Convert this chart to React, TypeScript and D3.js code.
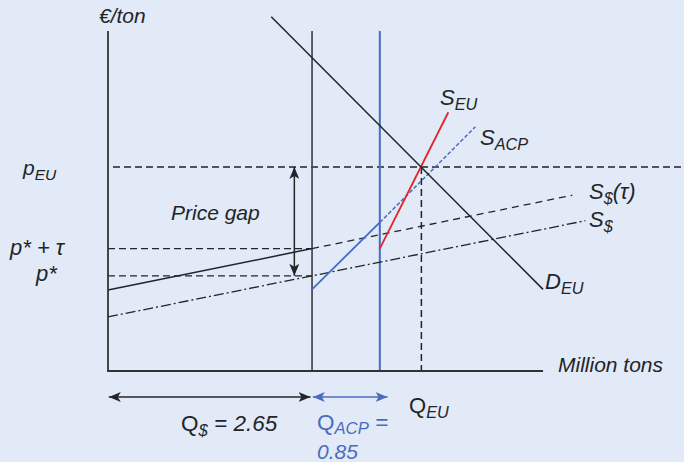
import React from 'react';
import * as d3 from 'd3';

const W = 684;
const H = 462;

// quantities in million tons, prices in arbitrary units
const qWorld = 2.65;          // Q$
const qWorldPlusACP = 3.53;   // Q$ + QACP
const qEU = 4.07;             // QEU
const axisQMax = 5.65;
const axisPMax = 10;
const pEU = 6.0;
const pStarTau = 3.6;
const pStar = 2.8;
const gapArrowQ = 2.42;

const demandEU: [number, number][] = [[2.12, 10.42], [5.65, 2.4]];
const supplyTauSolid: [number, number][] = [[0, 2.38], [2.65, 3.6]];
const supplyTauDashed: [number, number][] = [[2.65, 3.6], [6.03, 5.17]];
const supplyWorld: [number, number][] = [[0, 1.59], [6.2, 4.42]];
const supplyEU: [number, number][] = [[3.53, 3.6], [4.42, 7.61]];
const supplyACPSolid: [number, number][] = [[2.65, 2.4], [3.53, 4.37]];
const supplyACPDashed: [number, number][] = [[3.53, 4.37], [4.77, 7.18]];
const bottomArrowBlack = [0.01, 2.63];
const bottomArrowBlue = [2.66, 3.63];

const FONT = '"Liberation Sans", Arial, Helvetica, sans-serif';
const INK = '#222428';
const BLUE = '#4a6cc0';
const RED = '#e3232a';

const x = d3.scaleLinear().domain([0, 6]).range([108, 570]);
const y = d3.scaleLinear().domain([0, 10]).range([371, 31]);
const line = d3.line<[number, number]>().x(d => x(d[0])).y(d => y(d[1]));

type LabelProps = {
  x: number; y: number; main: string; sub?: string; extra?: string;
  size?: number; fill?: string; upright?: boolean; drop?: number;
};

const Label = ({ x, y, main, sub, extra, size = 21, fill = INK, upright, drop = 5 }: LabelProps) => (
  <text x={x} y={y} fontSize={size} fill={fill} fontFamily={FONT} fontStyle="italic">
    <tspan fontStyle={upright ? 'normal' : 'italic'}>{main}</tspan>
    {sub && <tspan fontSize={size * 0.74} dy={drop}>{sub}</tspan>}
    {extra && <tspan dy={-drop}>{extra}</tspan>}
  </text>
);

export default function App() {
  const arrowY = 397;
  return (
    <svg width={W} height={H} style={{ position: 'absolute', left: 0, top: 0 }}>
      <defs>
        <marker id="headK" viewBox="0 0 12 10" refX={12} refY={5} markerWidth={12} markerHeight={10}
          markerUnits="userSpaceOnUse" orient="auto-start-reverse">
          <path d="M0,0 L12,5 L0,10 L3,5 Z" fill={INK} />
        </marker>
        <marker id="headB" viewBox="0 0 12 10" refX={12} refY={5} markerWidth={12} markerHeight={10}
          markerUnits="userSpaceOnUse" orient="auto-start-reverse">
          <path d="M0,0 L12,5 L0,10 L3,5 Z" fill={BLUE} />
        </marker>
      </defs>
      <rect width={W} height={H} fill="#e1eaf6" />

      {/* reference dashed lines */}
      <line x1={x(0) + 5} x2={W} y1={y(pEU)} y2={y(pEU)} stroke={INK} strokeWidth={1.3} strokeDasharray="7 4" />
      <line x1={x(0)} x2={x(qWorld)} y1={y(pStarTau)} y2={y(pStarTau)} stroke={INK} strokeWidth={1.3} strokeDasharray="7 4" />
      <line x1={x(0)} x2={x(qWorld)} y1={y(pStar)} y2={y(pStar)} stroke={INK} strokeWidth={1.3} strokeDasharray="7 4" />
      <line x1={x(qEU)} x2={x(qEU)} y1={y(pEU)} y2={y(0)} stroke={INK} strokeWidth={1.5} strokeDasharray="7 4" />

      {/* quantity verticals */}
      <line x1={x(qWorld)} x2={x(qWorld)} y1={y(axisPMax)} y2={y(0)} stroke="#44474f" strokeWidth={1.7} />
      <line x1={x(qWorldPlusACP)} x2={x(qWorldPlusACP)} y1={y(axisPMax)} y2={y(0)} stroke={BLUE} strokeWidth={2} />

      {/* supply curves */}
      <path d={line(supplyWorld) || ''} fill="none" stroke={INK} strokeWidth={1.3} strokeDasharray="10 3 2 3" />
      <path d={line(supplyTauSolid) || ''} fill="none" stroke={INK} strokeWidth={1.5} />
      <path d={line(supplyTauDashed) || ''} fill="none" stroke={INK} strokeWidth={1.3} strokeDasharray="7 5" />
      <path d={line(supplyACPSolid) || ''} fill="none" stroke={BLUE} strokeWidth={1.8} />
      <path d={line(supplyACPDashed) || ''} fill="none" stroke={BLUE} strokeWidth={1.5} strokeDasharray="4 2" />
      <path d={line(supplyEU) || ''} fill="none" stroke={RED} strokeWidth={1.8} />

      {/* demand */}
      <path d={line(demandEU) || ''} fill="none" stroke={INK} strokeWidth={1.5} />

      {/* axes */}
      <path d={`M${x(0)},${y(axisPMax)}V${y(0)}H${x(axisQMax)}`} fill="none" stroke="#333" strokeWidth={1.8} />

      {/* price gap arrow */}
      <line x1={x(gapArrowQ)} x2={x(gapArrowQ)} y1={y(pEU)} y2={y(pStar)} stroke={INK} strokeWidth={1.5}
        markerStart="url(#headK)" markerEnd="url(#headK)" />

      {/* quantity arrows */}
      <line x1={x(bottomArrowBlack[0])} x2={x(bottomArrowBlack[1])} y1={arrowY} y2={arrowY} stroke={INK} strokeWidth={1.5}
        markerStart="url(#headK)" markerEnd="url(#headK)" />
      <line x1={x(bottomArrowBlue[0])} x2={x(bottomArrowBlue[1])} y1={arrowY} y2={arrowY} stroke={BLUE} strokeWidth={1.5}
        markerStart="url(#headB)" markerEnd="url(#headB)" />

      {/* labels */}
      <Label x={99} y={23} main="€/ton" />
      <Label x={23} y={175} main="p" sub="EU" />
      <Label x={171} y={220} main="Price gap" />
      <Label x={10} y={255} main="p* + τ" size={22} />
      <Label x={36} y={281} main="p*" size={22} />
      <Label x={440} y={105} main="S" sub="EU" size={22} />
      <Label x={480} y={145} main="S" sub="ACP" size={22} />
      <Label x={589} y={199} main="S" sub="$" extra="(τ)" size={22} />
      <Label x={589} y={227} main="S" sub="$" size={22} />
      <Label x={545} y={289} main="D" sub="EU" size={22} />
      <Label x={558} y={372} main="Million tons" />
      <Label x={409} y={413} main="Q" sub="EU" upright size={22} />
      <Label x={181} y={431} main="Q" sub="$" extra=" = 2.65" upright size={22.5} />
      <Label x={317} y={430} main="Q" sub="ACP" extra=" =" upright size={22.5} fill={BLUE} drop={4} />
      <Label x={317} y={459} main="0.85" size={21} fill={BLUE} />
    </svg>
  );
}
